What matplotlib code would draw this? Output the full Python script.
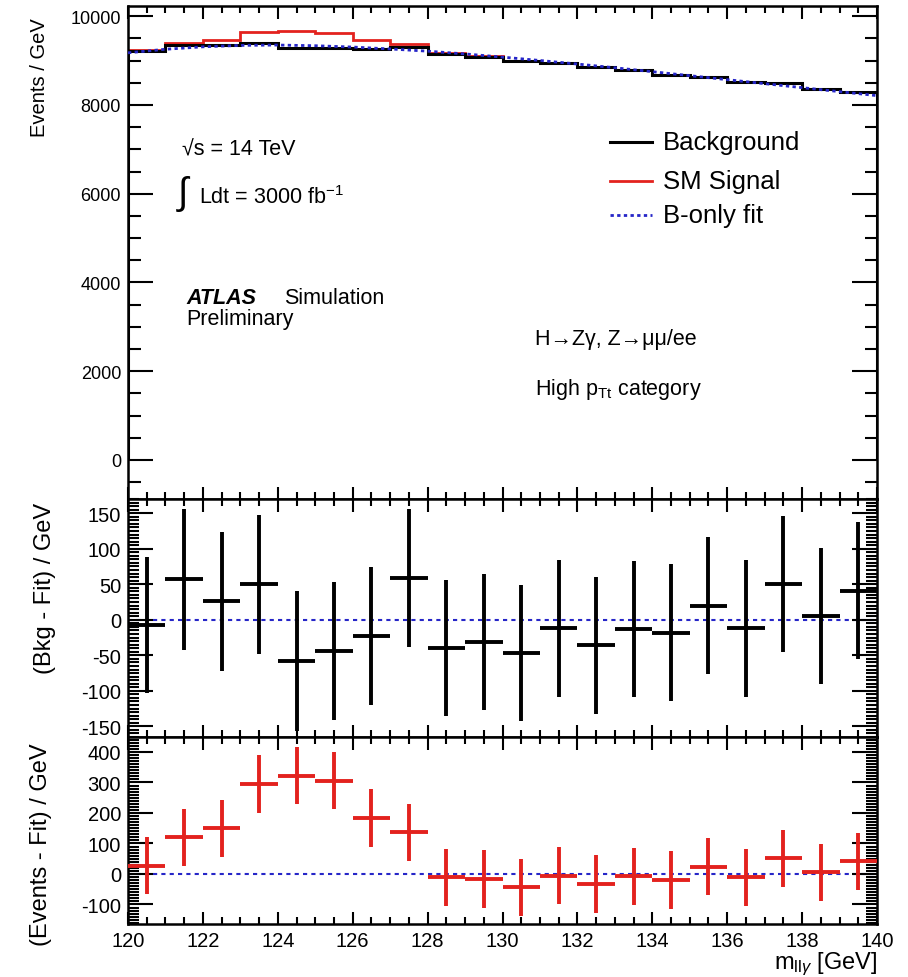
import numpy as np
import matplotlib
matplotlib.use("Agg")
import matplotlib.pyplot as plt
from matplotlib.lines import Line2D
from matplotlib.ticker import MultipleLocator

plt.rcParams["font.family"] = ["Liberation Sans", "DejaVu Sans"]
plt.rcParams["mathtext.fontset"] = "custom"
plt.rcParams["mathtext.rm"] = "Liberation Sans"
plt.rcParams["mathtext.it"] = "Liberation Sans:italic"
plt.rcParams["axes.unicode_minus"] = False

# bin edges of m_llgamma [GeV]
edges = np.arange(120, 141, 1)
centers = edges[:-1] + 0.5

# top panel histograms (Events / GeV)
background = [9210, 9340, 9350, 9395, 9285, 9275, 9260, 9295, 9140, 9085,
              8995, 8950, 8845, 8780, 8685, 8635, 8515, 8485, 8350, 8295]
signal = [9240, 9405, 9475, 9640, 9665, 9625, 9465, 9375, 9170, 9095,
          8995, 8955, 8845, 8785, 8685, 8640, 8515, 8485, 8350, 8295]
# B-only fit evaluated at bin edges
fit_edges = [9175, 9255, 9310, 9342, 9350, 9335, 9305, 9262, 9212, 9150, 9078,
             9002, 8922, 8838, 8750, 8660, 8570, 8480, 8390, 8300, 8210]

# middle panel: (Bkg - Fit) / GeV
bkg_resid = [-7, 57, 26, 50, -58, -44, -23, 59, -40, -31,
             -47, -12, -36, -13, -18, 20, -12, 50, 5, 41]
bkg_err = [96, 99, 98, 98, 98, 97, 97, 97, 96, 96,
           96, 96, 96, 96, 96, 96, 96, 96, 96, 96]

# bottom panel: (Events - Fit) / GeV
sig_resid = [27, 120, 150, 295, 322, 306, 183, 137, -11, -17,
             -44, -6, -33, -8, -20, 24, -11, 51, 5, 41]
sig_err = [93, 94, 94, 94, 94, 94, 94, 94, 94, 94,
           94, 94, 94, 94, 94, 94, 94, 94, 94, 94]

legend_labels = ["Background", "SM Signal", "B-only fit"]

RED = "#e3221e"
BLUE = "#2626c8"
FITSTYLE = (0, (1.2, 1.2))
W, H = 908, 978

fig = plt.figure(figsize=(W / 100, H / 100), dpi=100)


def px_axes(top, bottom, left=128, right=877):
    return fig.add_axes([left / W, 1 - bottom / H, (right - left) / W, (bottom - top) / H])


def ftext(x, y, s, **kw):
    # text placed with pixel coordinates of the picture
    return fig.text(x / W, 1 - y / H, s, va="center", ha="left", **kw)


ax1 = px_axes(7, 500)
ax2 = px_axes(500, 738)
ax3 = px_axes(738, 925)


def style(ax, ymajor, yminor, ymaj_len, ymin_len, ylab_size):
    for s in ax.spines.values():
        s.set_linewidth(1.8)
    ax.set_xlim(120, 140)
    ax.xaxis.set_major_locator(MultipleLocator(2))
    ax.xaxis.set_minor_locator(MultipleLocator(0.5))
    ax.yaxis.set_major_locator(MultipleLocator(ymajor))
    ax.yaxis.set_minor_locator(MultipleLocator(yminor))
    ax.tick_params(axis="both", which="both", direction="in", top=True, right=True, width=1.5)
    ax.tick_params(axis="x", which="major", length=9, labelsize=14.5)
    ax.tick_params(axis="x", which="minor", length=5)
    ax.tick_params(axis="y", which="major", length=ymaj_len, pad=5, labelsize=ylab_size)
    ax.tick_params(axis="y", which="minor", length=ymin_len)


def set_ylab(ax, text, size, xpx, ytop_px, top_px):
    ax.set_ylabel(text, fontsize=size, ha="right", va="center")
    bb_h = ax.get_position().height * H
    ax.yaxis.set_label_coords((xpx - 128) / 749, 1 - (ytop_px - top_px) / bb_h)


# ---- top panel
style(ax1, 2000, 500, 18, 9, 13)
ax1.set_ylim(-880, 10230)
ax1.stairs(signal, edges, color=RED, linewidth=2, zorder=2)
ax1.stairs(background, edges, color="black", linewidth=2.2, zorder=3)
ax1.plot(edges, fit_edges, color=BLUE, linestyle=FITSTYLE, linewidth=2, zorder=4)
ax1.tick_params(axis="x", labelbottom=False)
set_ylab(ax1, "Events / GeV", 14.5, 40, 18, 7)

ftext(182, 150, "\u221as = 14 TeV", fontsize=15.5)
ftext(178, 194, "\u222b", fontsize=27)
ftext(199, 198, "Ldt = 3000 fb$^{-1}$", fontsize=15.5)
ftext(186, 299, "ATLAS", fontsize=15.5, fontweight="bold", fontstyle="italic")
ftext(284, 299, "Simulation", fontsize=15.5)
ftext(186, 320, "Preliminary", fontsize=15.5)
ftext(535, 340, "H\u2192Z\u03b3, Z\u2192\u03bc\u03bc/ee", fontsize=15.5)
ftext(535, 390, "High p$_{\\mathrm{Tt}}$ category", fontsize=15.5)

# legend
leg_styles = [dict(color="black", linewidth=2.2),
              dict(color=RED, linewidth=2),
              dict(color=BLUE, linestyle=FITSTYLE, linewidth=2)]
for lab, st, ypx in zip(legend_labels, leg_styles, [143, 182, 216]):
    fig.add_artist(Line2D([610 / W, 652 / W], [1 - ypx / H, 1 - ypx / H], **st))
    ftext(663, ypx, lab, fontsize=18.5)

# ---- middle panel
style(ax2, 50, 5, 18, 8, 14.5)
ax2.set_ylim(-165, 170)
ax2.axhline(0, color=BLUE, linestyle=(0, (2, 2)), linewidth=1.5, zorder=1)
ax2.errorbar(centers, bkg_resid, xerr=0.5, yerr=bkg_err, fmt="none", ecolor="black",
             elinewidth=2.8, capsize=0, zorder=3)
ax2.tick_params(axis="x", labelbottom=False)
set_ylab(ax2, "(Bkg - Fit) / GeV", 17, 45, 503, 500)

# ---- bottom panel
style(ax3, 100, 10, 18, 8, 14.5)
ax3.set_ylim(-164, 449)
ax3.axhline(0, color=BLUE, linestyle=(0, (2, 2)), linewidth=1.5, zorder=1)
ax3.errorbar(centers, sig_resid, xerr=0.5, yerr=sig_err, fmt="none", ecolor=RED,
             elinewidth=2.8, capsize=0, zorder=3)
ax3.tick_params(axis="x", which="major", pad=5)
set_ylab(ax3, "(Events - Fit) / GeV", 17, 41, 743, 738)
ax3.set_xlabel("m$_{\\mathrm{ll}\\gamma}$ [GeV]", fontsize=17, loc="right", labelpad=0)

fig.savefig("out.png", dpi=100)
